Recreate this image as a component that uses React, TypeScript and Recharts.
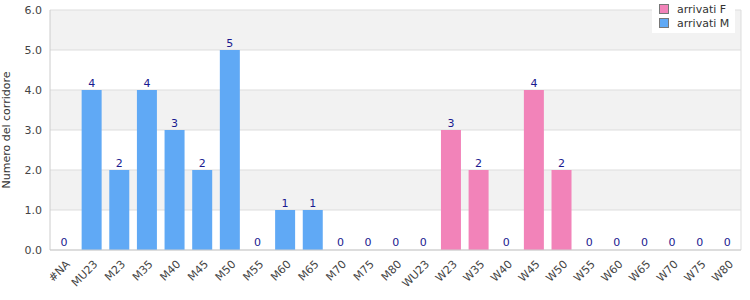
import React from "react";
import { BarChart, Bar, XAxis, YAxis, CartesianGrid, LabelList } from "recharts";

const categories = [
  "#NA", "MU23", "M23", "M35", "M40", "M45", "M50", "M55", "M60", "M65", "M70", "M75", "M80",
  "WU23", "W23", "W35", "W40", "W45", "W50", "W55", "W60", "W65", "W70", "W75", "W80",
];
const arrivatiM = [0, 4, 2, 4, 3, 2, 5, 0, 1, 1, 0, 0, 0, 0, 0, 0, 0, 0, 0, 0, 0, 0, 0, 0, 0];
const arrivatiF = [0, 0, 0, 0, 0, 0, 0, 0, 0, 0, 0, 0, 0, 0, 3, 2, 0, 4, 2, 0, 0, 0, 0, 0, 0];
const yTicks = [0, 1, 2, 3, 4, 5, 6];

const data = categories.map((c, i) => ({
  cat: c,
  m: arrivatiM[i],
  f: arrivatiF[i],
  total: arrivatiM[i] + arrivatiF[i],
}));

const FONT = "'DejaVu Sans', Verdana, sans-serif";
const BLUE = "#60a9f5";
const PINK = "#f283b9";

const legendItems = [
  { name: "arrivati F", color: PINK },
  { name: "arrivati M", color: BLUE },
];

function LegendBox() {
  return (
    <div
      style={{
        position: "absolute", left: 652, top: 0, width: 83, height: 33, background: "#fff",
        fontFamily: FONT, fontSize: 11, color: "#333", boxSizing: "border-box", padding: "2px 0 0 7px",
      }}
    >
      {legendItems.map((it) => (
        <div key={it.name} style={{ display: "flex", alignItems: "center", height: 14 }}>
          <span style={{ display: "inline-block", width: 8, height: 8, background: it.color, border: "1px solid #777", marginRight: 8 }} />
          {it.name}
        </div>
      ))}
    </div>
  );
}

function XTick(props: any) {
  const { x, y, payload } = props;
  return (
    <g transform={`translate(${x + 4},${y + 4})`}>
      <text transform="rotate(-45)" textAnchor="end" dy={4} fontSize={11} fill="#444" fontFamily={FONT}>
        {payload.value}
      </text>
    </g>
  );
}

export default function App() {
  return (
    <div style={{ position: "absolute", left: 0, top: 0, width: 750, height: 300, background: "#fff" }}>
      <BarChart width={750} height={300} data={data} margin={{ top: 10, right: 9, left: 0, bottom: 0 }} barSize={20}>
        <CartesianGrid
          stroke="#dddddd"
          horizontalFill={["#f2f2f2", "#ffffff"]}
          fillOpacity={1}
          verticalCoordinatesGenerator={({ offset }: any) => [offset.left + offset.width]}
        />
        <XAxis
          dataKey="cat"
          interval={0}
          height={50}
          tick={<XTick />}
          tickLine={false}
          axisLine={{ stroke: "#cccccc" }}
        />
        <XAxis xAxisId="lbl" dataKey="cat" hide />
        <YAxis
          width={50}
          domain={[0, 6]}
          ticks={yTicks}
          tickFormatter={(v: number) => v.toFixed(1)}
          tick={{ fontSize: 11, fill: "#444", fontFamily: FONT }}
          tickLine={false}
          axisLine={{ stroke: "#cccccc" }}
          label={{ value: "Numero del corridore", angle: -90, position: "insideLeft", offset: 0, dx: 6, style: { fontSize: 11, fill: "#333", fontFamily: FONT, textAnchor: "middle" } }}
        />
        <Bar dataKey="m" stackId="a" fill={BLUE} isAnimationActive={false} />
        <Bar dataKey="f" stackId="a" fill={PINK} isAnimationActive={false} />
        <Bar dataKey="total" xAxisId="lbl" fill="transparent" minPointSize={1} isAnimationActive={false}>
          <LabelList dataKey="total" position="top" offset={3} style={{ fontSize: 11, fill: "#1a1a8f", fontFamily: FONT }} />
        </Bar>
      </BarChart>
      <LegendBox />
    </div>
  );
}
